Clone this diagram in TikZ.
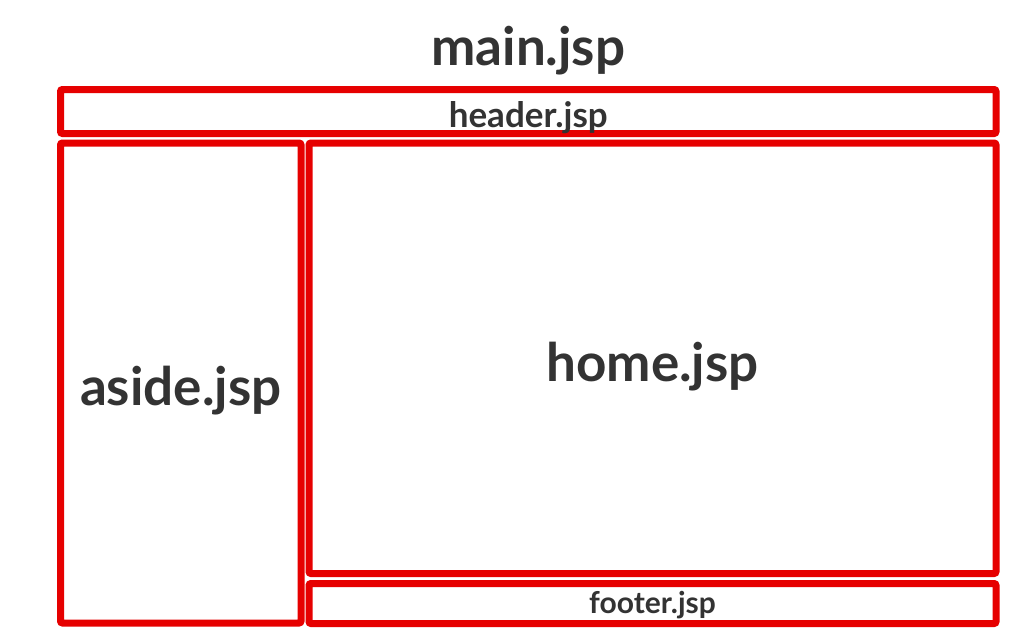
\documentclass[tikz,border=0pt]{standalone}
\usepackage{fontspec}
\setmainfont{Lato}
\usetikzlibrary{positioning,shadows}
\definecolor{boxred}{HTML}{E60000}
\definecolor{jsptext}{HTML}{333333}
\begin{document}
\begin{tikzpicture}[x=1pt,y=-1pt,
    jspbox/.style={draw=boxred,line width=7pt,rounded corners=2pt,fill=white,
      drop shadow={opacity=0.25,shadow xshift=1pt,shadow yshift=-1.5pt},
      inner sep=0pt},
    jsplabel/.style={text=jsptext,inner sep=0pt},
    big/.style={font=\fontsize{53}{53}\selectfont\bfseries},
    small/.style={font=\fontsize{35}{35}\selectfont\bfseries}]
\useasboundingbox[fill=white] (0,0) rectangle (1025,642);
% boxes
\node[jspbox,minimum width=935.5pt,minimum height=44pt](header) at (528.25,111.5){};
\node[jspbox,minimum width=240.5pt,minimum height=480pt](aside) at (180.75,383){};
\node[jspbox,minimum width=687pt,minimum height=430.5pt](home) at (652.5,358.25){};
\node[jspbox,minimum width=687pt,minimum height=40pt](footer) at (652.5,603.5){};
% names
\node[jsplabel,small](headername) at ([yshift=-6pt]header.center){header.jsp};
\node[jsplabel,big](asidename) at ([yshift=-8pt]aside.center){aside.jsp};
\node[jsplabel,big](homename) at ([yshift=-8pt]home.center){home.jsp};
\node[jsplabel,font=\fontsize{30}{30}\selectfont\bfseries](footername) at ([yshift=-2pt]footer.center){footer.jsp};
\node[jsplabel,big](main)[above=11pt of header.north]{main.jsp};
\end{tikzpicture}
\end{document}
